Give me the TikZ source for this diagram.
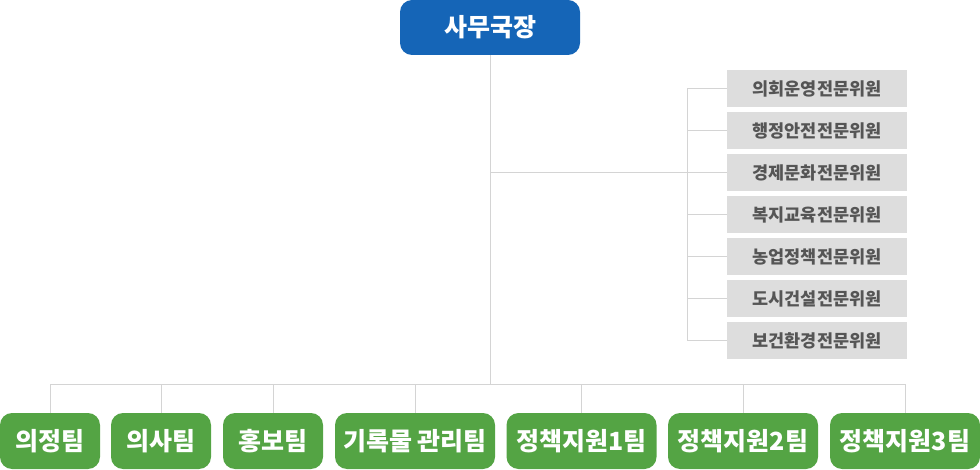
\documentclass[tikz,border=0pt]{standalone}
\usepackage{fontspec}
\newfontfamily\kr{Noto Sans CJK KR}
\definecolor{topblue}{HTML}{1565B7}
\definecolor{teamgreen}{HTML}{54A444}
\definecolor{comgray}{HTML}{DDDDDD}
\definecolor{comtext}{HTML}{555555}
\definecolor{linegray}{HTML}{D4D4D4}
\tikzset{
  headbox/.style={fill=topblue, rounded corners=12pt, minimum width=180pt, minimum height=55pt, inner sep=0pt, text=white, font=\kr\bfseries\fontsize{25}{28}\selectfont},
  combox/.style={fill=comgray, minimum width=180pt, minimum height=37pt, inner sep=0pt, text=comtext, font=\kr\bfseries\fontsize{17.5}{20}\selectfont},
  teambox/.style={fill=teamgreen, rounded corners=12pt, minimum height=56pt, inner sep=0pt, text=white, font=\kr\bfseries\fontsize{25}{28}\selectfont},
  conn/.style={draw=linegray, line width=1pt}
}
\begin{document}
\begin{tikzpicture}[x=1pt,y=-1pt]
\useasboundingbox (0,0) rectangle (980,470);
\node[headbox] (top) at (490,27.5) {사무국장};
\node[combox] (c1) at (817,88.5) {의회운영전문위원};
\node[combox] (c2) at (817,130.5) {행정안전전문위원};
\node[combox] (c3) at (817,172.5) {경제문화전문위원};
\node[combox] (c4) at (817,214.5) {복지교육전문위원};
\node[combox] (c5) at (817,256.5) {농업정책전문위원};
\node[combox] (c6) at (817,298.5) {도시건설전문위원};
\node[combox] (c7) at (817,340.5) {보건환경전문위원};
\node[teambox, minimum width=100pt] (b1) at (50,441) {의정팀};
\node[teambox, minimum width=100pt] (b2) at (161,441) {의사팀};
\node[teambox, minimum width=100pt] (b3) at (273,441) {홍보팀};
\node[teambox, minimum width=160pt] (b4) at (415,441) {기록물 관리팀};
\node[teambox, minimum width=150pt] (b5) at (581.5,441) {정책지원1팀};
\node[teambox, minimum width=150pt] (b6) at (743,441) {정책지원2팀};
\node[teambox, minimum width=150pt] (b7) at (905,441) {정책지원3팀};
\coordinate (hub) at (490,384);
\coordinate (brk) at (687,172.5);
% main trunk
\draw[conn] (top.south) -- (hub);
% bottom bus
\draw[conn] (b1.north) -- (b1.north |- hub) -- (b7.north |- hub) -- (b7.north);
\foreach \b in {b2,b3,b4,b5,b6} { \draw[conn] (\b.north) -- (\b.north |- hub); }
% branch to committees
\draw[conn] (top.south |- brk) -- (brk);
\draw[conn] (c1.west) -- (brk |- c1.west) -- (brk |- c7.west) -- (c7.west);
\foreach \c in {c2,c3,c4,c5,c6} { \draw[conn] (\c.west) -- (brk |- \c.west); }
\end{tikzpicture}
\end{document}
